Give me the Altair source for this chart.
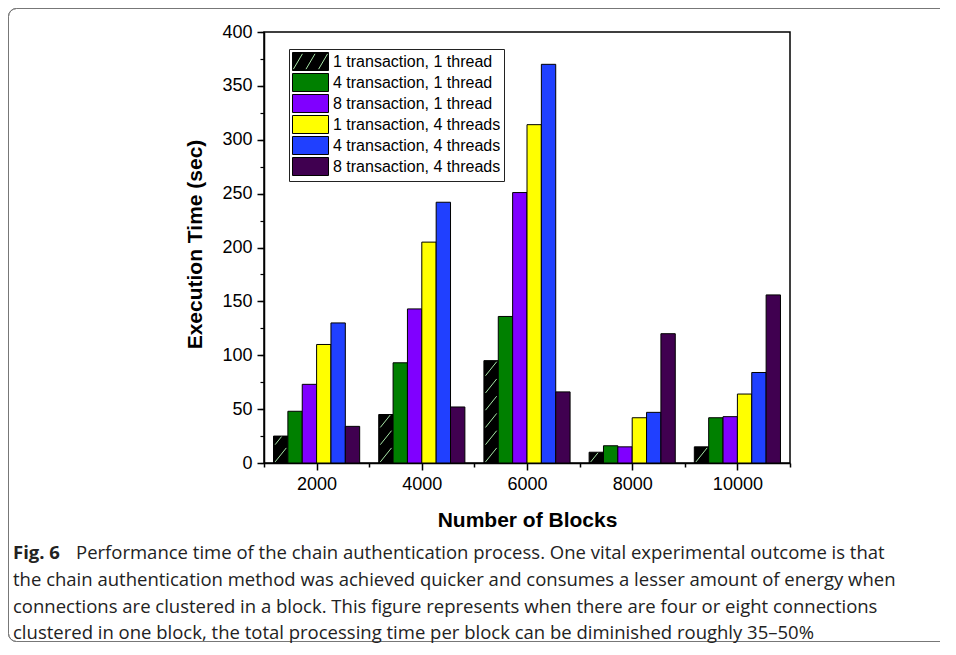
import math
import altair as alt
import pandas as pd

# ---------------- data ----------------
blocks = [2000, 4000, 6000, 8000, 10000]
series = [
    "1 transaction, 1 thread",
    "4 transaction, 1 thread",
    "8 transaction, 1 thread",
    "1 transaction, 4 threads",
    "4 transaction, 4 threads",
    "8 transaction, 4 threads",
]
colors = ["#000000", "#008000", "#8000ff", "#ffff00", "#2040ff", "#400050"]

t1_th1 = [25, 45, 95, 10, 15]
t4_th1 = [48, 93, 136, 16, 42]
t8_th1 = [73, 143, 251, 15, 43]
t1_th4 = [110, 205, 314, 42, 64]
t4_th4 = [130, 242, 370, 47, 84]
t8_th4 = [34, 52, 66, 120, 156]
series_values = [t1_th1, t4_th1, t8_th1, t1_th4, t4_th4, t8_th4]

x_ticks = [2000, 4000, 6000, 8000, 10000]
x_minor = [1000, 3000, 5000, 7000, 9000, 11000]
y_ticks = list(range(0, 401, 50))
y_minor = list(range(0, 401, 25))

caption_bold = "Fig. 6"
caption_lines = [
    "Performance time of the chain authentication process. One vital experimental outcome is that",
    "the chain authentication method was achieved quicker and consumes a lesser amount of energy when",
    "connections are clustered in a block. This figure  represents when there are four or eight connections",
    "clustered in one block, the total processing time per block can be diminished roughly 35\u201350%",
]

# ---------------- layout / style constants ----------------
BW = 273          # bar width in x-units
HATCH_DY = 13     # rise of one hatch stroke (y units)
HATCH_STEP = 16   # vertical spacing of hatch strokes (y units)
HATCH_COLOR = "#a8e6a8"
FONT = "Liberation Sans"
CAP_FONT = "Open Sans"
CAP_SIZE = 18.5
SWATCH = "M-2,-1H2V1H-2Z"
SWATCH_HATCH = "M-1.9,0.85L-0.9,-0.85M-0.5,0.85L0.5,-0.85M0.9,0.85L1.9,-0.85"
LEG = dict(orient="none", legendX=25, legendY=17, padding=3, symbolSize=324,
           symbolOffset=9, symbolStrokeWidth=1, symbolOpacity=1,
           labelFont=FONT, labelFontSize=16, labelOffset=13, rowPadding=-2.2,
           labelLimit=400, title=None)

rows = []
for i, (s, vals) in enumerate(zip(series, series_values)):
    for b, v in zip(blocks, vals):
        x0 = b + (i - 3) * BW
        rows.append({"series": s, "block": b, "x0": x0, "x1": x0 + BW, "value": v})
df = pd.DataFrame(rows)

# hatch strokes for the first series (derived from its values)
hrows = []
for b, v in zip(blocks, t1_th1):
    xl = b - 3 * BW + 30
    xr = b - 2 * BW - 30
    yb = 1.0
    while yb < v - 1:
        yt = min(yb + HATCH_DY, v - 0.5)
        frac = (yt - yb) / HATCH_DY
        hrows.append({"hx0": xl, "hx1": xl + (xr - xl) * frac, "hy0": yb, "hy1": yt})
        yb += HATCH_STEP
hdf = pd.DataFrame(hrows)

xscale = alt.Scale(domain=[1000, 11000], nice=False, zero=False)
yscale = alt.Scale(domain=[0, 400], nice=False)

bars = alt.Chart(df).mark_rect(stroke="black", strokeWidth=1).encode(
    x=alt.X("x0:Q", scale=xscale, axis=alt.Axis(
        orient="bottom", values=x_ticks, format="d", grid=False,
        labelFont=FONT, labelFontSize=18, labelColor="black", labelPadding=5,
        tickSize=7, tickWidth=1.5, tickColor="black",
        domainColor="black", domainWidth=1.5,
        title="Number of Blocks", titleFont=FONT, titleFontSize=21,
        titleFontWeight="bold", titleColor="black", titleY=57, titleBaseline="middle")),
    x2="x1:Q",
    y=alt.Y("value:Q", scale=yscale, axis=alt.Axis(
        orient="left", values=y_ticks, grid=False,
        labelFont=FONT, labelFontSize=18, labelColor="black", labelPadding=5,
        tickSize=7, tickWidth=1.5, tickColor="black",
        domainColor="black", domainWidth=1.5,
        title="Execution Time (sec)", titleFont=FONT, titleFontSize=21,
        titleFontWeight="bold", titleColor="black", titleAngle=270,
        titleX=-69, titleY=212, titleBaseline="middle")),
    y2=alt.datum(0),
    color=alt.Color("series:N", scale=alt.Scale(domain=series, range=colors),
                    legend=alt.Legend(fillColor="white", strokeColor="#222222",
                                      symbolType=SWATCH, symbolStrokeColor="black",
                                      labelColor="black", zindex=1, **LEG)),
)

hatch = alt.Chart(hdf).mark_rule(color=HATCH_COLOR, strokeWidth=1).encode(
    x=alt.X("hx0:Q", scale=xscale, axis=alt.Axis(
        orient="bottom", values=x_minor, labels=False, title=None, grid=False,
        domain=False, tickSize=4, tickWidth=1.5, tickColor="black")),
    x2="hx1:Q",
    y=alt.Y("hy0:Q", scale=yscale, axis=alt.Axis(
        orient="left", values=y_minor, labels=False, title=None, grid=False,
        domain=False, tickSize=4, tickWidth=1.2, tickColor="black")),
    y2="hy1:Q",
)

# overlay legend drawing the hatch on the first legend swatch
leg_overlay = alt.Chart(pd.DataFrame({"s": [series[0]]})).mark_point(opacity=0).encode(
    x=alt.value(0), y=alt.value(0),
    shape=alt.Shape("s:N", scale=alt.Scale(domain=[series[0]], range=[SWATCH_HATCH]),
                    legend=alt.Legend(symbolStrokeColor=HATCH_COLOR,
                                      symbolFillColor="transparent",
                                      labelOpacity=0, zindex=2, **LEG)),
)

one = pd.DataFrame({"k": [0]})
BL, BT, BB, R, BR = -255.5, -23.5, 609.5, 8, 676
edge = dict(color="#777777", strokeWidth=1)
border = [
    alt.Chart(one).mark_rule(**edge).encode(x=alt.value(BL), y=alt.value(BT + R), y2=alt.value(BB - R)),
    alt.Chart(one).mark_rule(**edge).encode(x=alt.value(BL + R), x2=alt.value(BR), y=alt.value(BT)),
    alt.Chart(one).mark_rule(**edge).encode(x=alt.value(BL + R), x2=alt.value(BR), y=alt.value(BB)),
    alt.Chart(one).mark_arc(radius=R, radius2=R, theta=1.5 * math.pi, theta2=2 * math.pi,
                            fillOpacity=0, stroke="#777777", strokeWidth=1).encode(
        x=alt.value(BL + R), y=alt.value(BT + R)),
    alt.Chart(one).mark_arc(radius=R, radius2=R, theta=math.pi, theta2=1.5 * math.pi,
                            fillOpacity=0, stroke="#777777", strokeWidth=1).encode(
        x=alt.value(BL + R), y=alt.value(BB - R)),
]

cap_y = [521, 548, 575, 601]
texts = [
    alt.Chart(pd.DataFrame({"t": [caption_bold]})).mark_text(
        font=CAP_FONT, fontSize=CAP_SIZE, fontWeight="bold", align="left", baseline="middle",
        color="#222222").encode(text="t:N", x=alt.value(-251), y=alt.value(cap_y[0]))
]
for n, line in enumerate(caption_lines):
    texts.append(
        alt.Chart(pd.DataFrame({"t": [line]})).mark_text(
            font=CAP_FONT, fontSize=CAP_SIZE, align="left", baseline="middle",
            color="#222222").encode(text="t:N", x=alt.value(-188 if n == 0 else -251),
                                     y=alt.value(cap_y[n]))
    )

chart = alt.layer(bars, hatch, leg_overlay, *border, *texts).resolve_axis(
    x="independent", y="independent"
).resolve_legend(color="independent", shape="independent").properties(
    width=526, height=431,
    padding={"left": 256, "top": 24, "right": 158, "bottom": 180},
    autosize="none",
).configure_view(stroke="black", strokeWidth=1.5)

chart.save("out.html", embed_options={"renderer": "svg", "actions": False})
